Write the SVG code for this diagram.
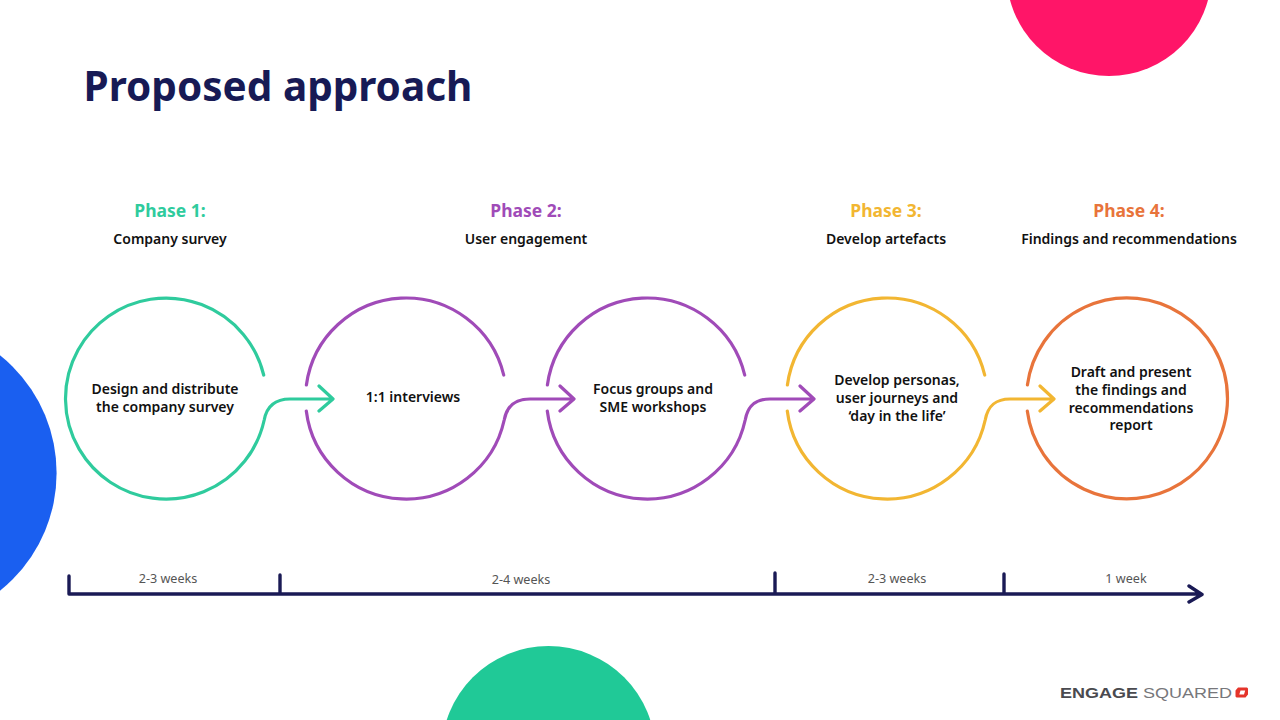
<svg xmlns="http://www.w3.org/2000/svg" width="1280" height="720" viewBox="0 0 1280 720">
<style>
text{font-family:"Noto Sans","Open Sans","Liberation Sans",sans-serif;text-anchor:middle}
.ph{font-size:17.500px;font-weight:700}
.sub{font-size:14px;font-weight:600;fill:#111}
.body{font-size:14px;font-weight:600;fill:#111}
.wk{font-size:12.600px;fill:#555}
.c{fill:none;stroke-width:3.2;stroke-linecap:round;stroke-linejoin:round}
.g{stroke:#2fcb9d}.p{stroke:#a04bb8}.y{stroke:#f2b632}.o{stroke:#e8743b}
.ax{fill:none;stroke:#1a1a55;stroke-width:3.4;stroke-linecap:round;stroke-linejoin:round}
.lg{font-family:"Liberation Sans",sans-serif;font-size:14px;text-anchor:start}
</style>
<rect width="1280" height="720" fill="#fff"/>
<g id="decor">
<circle cx="1109" cy="-26.500" r="102.500" fill="#ff1568"/>
<circle cx="-94" cy="473" r="150.600" fill="#1a5ff0"/>
<circle cx="548.500" cy="753" r="107" fill="#20c997"/>
</g>
<text id="title" x="278" y="101" font-size="40.500" font-weight="700" fill="#171a55">Proposed approach</text>
<g id="phase1-head"><text class="ph" x="170" y="217" fill="#2fcb9d">Phase 1:</text><text class="sub" x="170" y="244">Company survey</text></g>
<g id="phase2-head"><text class="ph" x="526" y="217" fill="#a04bb8">Phase 2:</text><text class="sub" x="526" y="244">User engagement</text></g>
<g id="phase3-head"><text class="ph" x="886" y="217" fill="#f2b632">Phase 3:</text><text class="sub" x="886" y="244">Develop artefacts</text></g>
<g id="phase4-head"><text class="ph" x="1129" y="217" fill="#e8743b">Phase 4:</text><text class="sub" x="1129" y="244">Findings and recommendations</text></g>
<g id="connectors">
<path class="c g" d="M263.700 375A100.500 100.500 0 1 0 264.200 420C267 405 276 399 290 399H332M319 386L333 399L319 411"/>
<path class="c p" d="M503.700 375A100.500 100.500 0 0 0 306.400 385M306.300 411A100.500 100.500 0 0 0 504.200 420C507 405 516 399 530 399H573M560 386L574 399L560 411"/>
<path class="c p" d="M744.700 375A100.500 100.500 0 0 0 547.400 385M547.300 411A100.500 100.500 0 0 0 745.200 420C748 405 756 399 770 399H813M800 386L814 399L800 411"/>
<path class="c y" d="M984.700 375A100.500 100.500 0 0 0 787.400 385M787.300 411A100.500 100.500 0 0 0 985.200 420C988 405 996 399 1010 399H1053M1040 386L1054 399L1040 411"/>
<path class="c o" d="M1027.400 385A100.500 100.500 0 1 1 1027.300 411"/>
</g>
<g id="node1"><text class="body" x="165" y="394">Design and distribute</text><text class="body" x="165" y="412">the company survey</text></g>
<g id="node2"><text class="body" x="413" y="402">1:1 interviews</text></g>
<g id="node3"><text class="body" x="653" y="394">Focus groups and</text><text class="body" x="653" y="412">SME workshops</text></g>
<g id="node4"><text class="body" x="897" y="385">Develop personas,</text><text class="body" x="897" y="403">user journeys and</text><text class="body" x="897" y="421">‘day in the life’</text></g>
<g id="node5"><text class="body" x="1131" y="377">Draft and present</text><text class="body" x="1131" y="395">the findings and</text><text class="body" x="1131" y="413">recommendations</text><text class="body" x="1131" y="430">report</text></g>
<g id="timeline">
<path class="ax" d="M69 576V594H1200M280 575V594M775 573V594M1004 574V594M1189 586L1202 594.500L1189 602"/>
<text class="wk" x="168" y="583">2-3 weeks</text>
<text class="wk" x="521" y="584">2-4 weeks</text>
<text class="wk" x="897" y="583">2-3 weeks</text>
<text class="wk" x="1126" y="583">1 week</text>
</g>
<g id="logo">
<text class="lg" x="1060" y="698" font-weight="700" fill="#4a4a4f" textLength="78" lengthAdjust="spacingAndGlyphs">ENGAGE</text>
<text class="lg" x="1143" y="698" fill="#77777b" textLength="89" lengthAdjust="spacingAndGlyphs">SQUARED</text>
<path d="M1238 687.500h9l1 1v6l-2.500 3h-9l-1-1v-6zM1240.500 690.500l-1.200 4h4.700l1.200-4z" fill="#e5342b" fill-rule="evenodd"/>
</g>
</svg>
